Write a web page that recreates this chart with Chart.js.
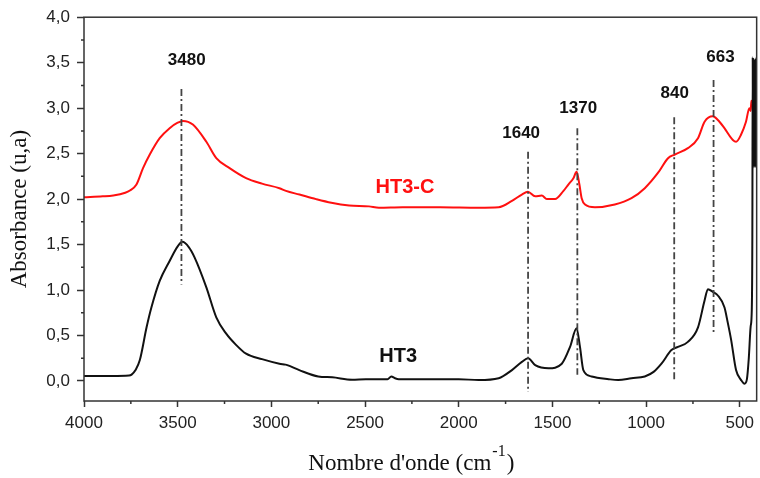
<!DOCTYPE html>
<html lang="fr">
<head>
  <meta charset="UTF-8" />
  <title>Spectres IR HT3 / HT3-C</title>
  <script src="https://cdn.jsdelivr.net/npm/chart.js"></script>
  <style>
    body { margin: 0; background: #fff; }
    #box { width: 760px; height: 478px; }
  </style>
</head>
<body>
  <div id="box"><canvas id="irChart" width="760" height="478"></canvas></div>

  <script>
    // HT3 spectrum (black), wavenumber in cm-1 and absorbance
    const ht3Wave = [4000, 3850, 3760, 3746, 3725, 3702, 3666, 3640, 3596, 3543, 3500, 3475, 3440, 3410, 3347, 3294, 3241, 3190, 3135, 3050, 2957, 2925, 2915, 2851, 2750, 2675, 2569, 2496, 2380, 2360, 2340, 2320, 2200, 2000, 1894, 1787, 1716, 1663, 1630, 1592, 1521, 1450, 1406, 1371, 1353, 1335, 1291, 1200, 1149, 1078, 1007, 960, 918, 865, 830, 777, 723, 688, 670, 644, 617, 582, 565, 546, 520, 493, 475, 462, 452, 442, 436, 433, 431, 430, 428, 427, 425, 424, 422, 421, 419, 418, 416, 415, 413, 412, 410];
    const ht3Abs = [0.055, 0.055, 0.06, 0.07, 0.12, 0.23, 0.59, 0.81, 1.10, 1.32, 1.48, 1.53, 1.47, 1.36, 1.03, 0.70, 0.52, 0.40, 0.30, 0.24, 0.19, 0.18, 0.175, 0.12, 0.05, 0.04, 0.015, 0.02, 0.02, 0.05, 0.03, 0.02, 0.02, 0.02, 0.01, 0.03, 0.12, 0.21, 0.25, 0.175, 0.14, 0.19, 0.375, 0.58, 0.375, 0.12, 0.05, 0.02, 0.01, 0.03, 0.05, 0.10, 0.19, 0.34, 0.375, 0.43, 0.59, 0.885, 1.01, 0.98, 0.94, 0.81, 0.65, 0.45, 0.12, 0.01, -0.03, 0.02, 0.25, 0.6, 0.78, 1.6, 3.56, 2.4, 3.5, 2.35, 3.54, 2.4, 3.5, 2.35, 3.52, 2.4, 3.55, 2.35, 3.5, 2.35, 3.5];

    // HT3-C spectrum (red)
    const ht3cWave = [4000, 3900, 3844, 3780, 3755, 3720, 3685, 3649, 3596, 3543, 3500, 3472, 3419, 3347, 3294, 3223, 3135, 3050, 2957, 2922, 2850, 2762, 2680, 2585, 2479, 2426, 2300, 2100, 1894, 1787, 1716, 1663, 1631, 1592, 1557, 1530, 1486, 1441, 1415, 1388, 1371, 1356, 1344, 1326, 1273, 1167, 1078, 1007, 936, 883, 847, 777, 723, 688, 644, 617, 582, 537, 520, 493, 467, 449, 442, 438, 435];
    const ht3cAbs = [2.02, 2.03, 2.04, 2.07, 2.095, 2.16, 2.34, 2.49, 2.67, 2.78, 2.84, 2.86, 2.82, 2.63, 2.45, 2.34, 2.23, 2.17, 2.12, 2.09, 2.05, 2.0, 1.96, 1.93, 1.92, 1.905, 1.91, 1.91, 1.905, 1.91, 1.98, 2.05, 2.08, 2.03, 2.04, 2.0, 2.0, 2.09, 2.16, 2.23, 2.30, 2.16, 2.01, 1.94, 1.91, 1.94, 2.01, 2.12, 2.29, 2.45, 2.49, 2.56, 2.67, 2.85, 2.91, 2.87, 2.78, 2.65, 2.63, 2.71, 2.85, 3.0, 2.97, 3.08, 3.05];

    // dash-dot marker lines and their labels
    const peakWave = [3480, 1630, 1367, 850, 640];
    const peakTop = [3.21, 2.52, 2.78, 2.9, 3.31];
    const peakBottom = [1.06, -0.12, 0.07, 0.01, 0.54];
    const peakLabels = ['3480', '1640', '1370', '840', '663'];
    const peakLabelWave = [3452, 1667, 1362, 847, 603];
    const peakLabelAbs = [3.53, 2.72, 3.0, 3.16, 3.56];

    const seriesNames = ['HT3', 'HT3-C'];
    const seriesLabelWave = [2323, 2287];
    const seriesLabelAbs = [0.27, 2.13];
    const seriesColors = ['#111111', '#ff1010'];

    // axis ticks
    const xTicks = [4000, 3500, 3000, 2500, 2000, 1500, 1000, 500];
    const yTicks = [0, 0.5, 1.0, 1.5, 2.0, 2.5, 3.0, 3.5, 4.0];
    const xMinorTicks = [3750, 3250, 2750, 2250, 1750, 1250, 750];
    const yMinorTicks = [0.25, 0.75, 1.25, 1.75, 2.25, 2.75, 3.25, 3.75];

    const zip = (xs, ys) => xs.map((x, i) => ({ x: x, y: ys[i] }));

    const markerSets = peakWave.map((w, i) => ({
      data: [{ x: w, y: peakTop[i] }, { x: w, y: peakBottom[i] }],
      borderColor: '#444',
      borderWidth: 1.8,
      borderDash: [7, 3, 2, 3],
      pointRadius: 0,
      order: 0
    }));

    // frame, minor ticks, x title and text labels
    const decorPlugin = {
      id: 'decor',
      afterDatasetsDraw(chart) {
        const { ctx, chartArea: a, scales: { x, y } } = chart;
        ctx.save();
        ctx.strokeStyle = '#333';
        ctx.lineWidth = 1.5;
        ctx.strokeRect(a.left, a.top, a.right - a.left, a.bottom - a.top);
        ctx.beginPath();
        xMinorTicks.forEach(v => {
          const px = x.getPixelForValue(v);
          ctx.moveTo(px, a.bottom); ctx.lineTo(px, a.bottom + 3);
        });
        yMinorTicks.forEach(v => {
          const py = y.getPixelForValue(v);
          ctx.moveTo(a.left, py); ctx.lineTo(a.left - 3, py);
        });
        ctx.stroke();

        ctx.textAlign = 'center';
        ctx.textBaseline = 'middle';
        ctx.fillStyle = '#111';
        ctx.font = 'bold 17px "Liberation Sans", Arial, sans-serif';
        peakLabels.forEach((t, i) => {
          ctx.fillText(t, x.getPixelForValue(peakLabelWave[i]), y.getPixelForValue(peakLabelAbs[i]));
        });
        ctx.font = 'bold 20px "Liberation Sans", Arial, sans-serif';
        seriesNames.forEach((t, i) => {
          ctx.fillStyle = seriesColors[i];
          ctx.fillText(t, x.getPixelForValue(seriesLabelWave[i]), y.getPixelForValue(seriesLabelAbs[i]));
        });

        // x axis title with superscript
        const main = 'Nombre d\'onde (cm';
        const sup = '-1';
        const end = ')';
        ctx.fillStyle = '#111';
        ctx.textAlign = 'left';
        ctx.textBaseline = 'alphabetic';
        ctx.font = '23px "Liberation Serif", "Times New Roman", serif';
        const w1 = ctx.measureText(main).width;
        const w3 = ctx.measureText(end).width;
        ctx.font = '16px "Liberation Serif", "Times New Roman", serif';
        const w2 = ctx.measureText(sup).width;
        let sx = (a.left + a.right) / 2 - 10 - (w1 + w2 + w3) / 2;
        const base = a.bottom + 69;
        ctx.font = '23px "Liberation Serif", "Times New Roman", serif';
        ctx.fillText(main, sx, base);
        ctx.font = '16px "Liberation Serif", "Times New Roman", serif';
        ctx.fillText(sup, sx + w1 + 1, base - 14);
        ctx.font = '23px "Liberation Serif", "Times New Roman", serif';
        ctx.fillText(end, sx + w1 + w2 + 2, base);
        ctx.restore();
      }
    };

    new Chart(document.getElementById('irChart'), {
      type: 'line',
      data: {
        datasets: [
          {
            label: 'HT3-C',
            data: zip(ht3cWave, ht3cAbs),
            borderColor: seriesColors[1],
            borderWidth: 2,
            pointRadius: 0,
            cubicInterpolationMode: 'monotone',
            order: 2
          },
          {
            label: 'HT3',
            data: zip(ht3Wave, ht3Abs),
            borderColor: seriesColors[0],
            borderWidth: 2,
            pointRadius: 0,
            cubicInterpolationMode: 'monotone',
            order: 1
          },
          ...markerSets
        ]
      },
      options: {
        responsive: false,
        devicePixelRatio: 1,
        animation: false,
        layout: { padding: { top: 15, right: 1, left: 0, bottom: 0 } },
        plugins: { legend: { display: false }, tooltip: { enabled: false } },
        scales: {
          x: {
            type: 'linear',
            reverse: true,
            min: 410,
            max: 4000,
            afterFit: s => { s.height = 77; },
            afterBuildTicks: s => { s.ticks = xTicks.map(v => ({ value: v })); },
            border: { display: false },
            grid: { display: true, drawOnChartArea: false, tickLength: 6, tickColor: '#333', tickWidth: 1.5 },
            ticks: {
              padding: 6,
              color: '#222',
              font: { family: '"Liberation Sans", Arial, sans-serif', size: 17 },
              maxRotation: 0,
              autoSkip: false,
              callback: v => String(v)
            }
          },
          y: {
            min: -0.22,
            max: 4.0,
            afterFit: s => { s.width = 84; },
            afterBuildTicks: s => { s.ticks = yTicks.map(v => ({ value: v })); },
            border: { display: false },
            grid: { display: true, drawOnChartArea: false, tickLength: 7, tickColor: '#333', tickWidth: 1.5 },
            title: {
              display: true,
              text: 'Absorbance (u,a)',
              color: '#111',
              font: { family: '"Liberation Serif", "Times New Roman", serif', size: 23 },
              padding: { top: 6, bottom: 0 }
            },
            ticks: {
              padding: 7,
              color: '#222',
              font: { family: '"Liberation Sans", Arial, sans-serif', size: 17 },
              callback: v => v.toFixed(1).replace('.', ',')
            }
          }
        }
      },
      plugins: [decorPlugin]
    });
  </script>
</body>
</html>
